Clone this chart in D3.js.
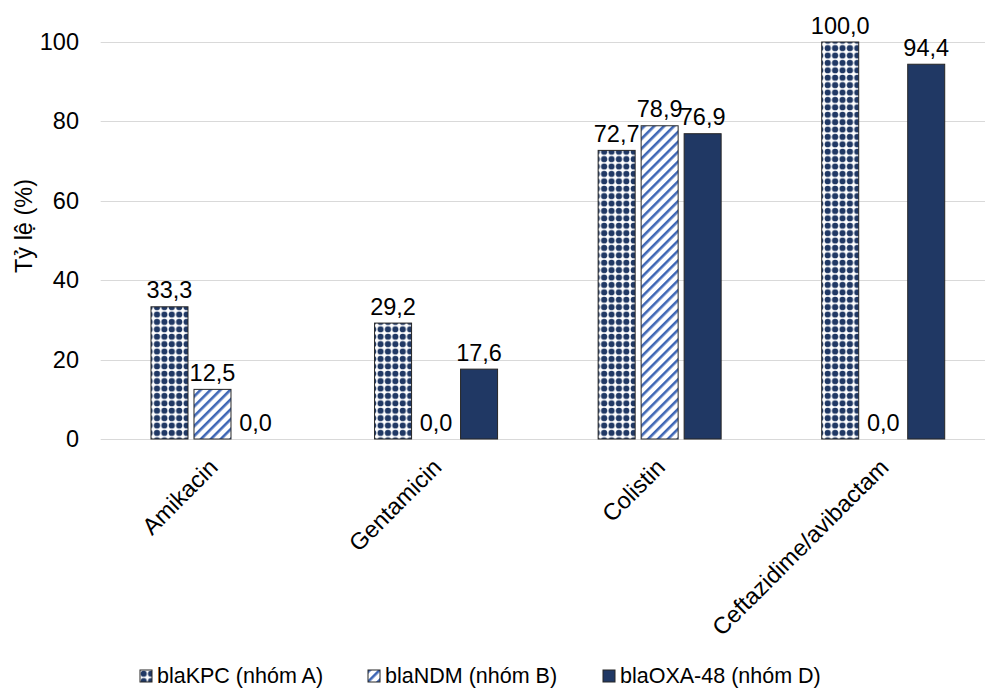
<!DOCTYPE html>
<html>
<head>
<meta charset="utf-8">
<script src="https://cdn.jsdelivr.net/npm/d3@7"></script>
<style>
  html, body { margin: 0; padding: 0; background: #fff; }
  svg { display: block; font-family: "Liberation Sans", Arial, sans-serif; }
</style>
</head>
<body>
<svg id="chart" width="985" height="688"></svg>
<script>
// Categories (antibiotics) and series (carbapenemase genes)
const categories = ["Amikacin", "Gentamicin", "Colistin", "Ceftazidime/avibactam"];
const seriesNames = ["blaKPC (nhóm A)", "blaNDM (nhóm B)", "blaOXA-48 (nhóm D)"];
const kpcValues = [33.3, 29.2, 72.7, 100.0];
const ndmValues = [12.5, 0.0, 78.9, 0.0];
const oxaValues = [0.0, 17.6, 76.9, 94.4];
const yTicks = [0, 20, 40, 60, 80, 100];
const yTitle = "Tỷ lệ (%)";

const seriesValues = [kpcValues, ndmValues, oxaValues];
const fills = ["url(#dots)", "url(#stripes)", "#203864"];
const navy = "#203864";

const svg = d3.select("#chart");
const FS = 23.5;

// Patterns
const defs = svg.append("defs");
const dots = defs.append("pattern")
  .attr("id", "dots").attr("patternUnits", "userSpaceOnUse")
  .attr("width", 7.4).attr("height", 7.4);
dots.append("rect").attr("width", 7.4).attr("height", 7.4).attr("fill", "#fff");
dots.append("circle").attr("cx", 3.7).attr("cy", 3.7).attr("r", 3.1).attr("fill", navy);

const stripes = defs.append("pattern")
  .attr("id", "stripes").attr("patternUnits", "userSpaceOnUse")
  .attr("width", 7).attr("height", 7)
  .attr("patternTransform", "rotate(45)");
stripes.append("rect").attr("width", 7).attr("height", 7).attr("fill", "#fff");
stripes.append("rect").attr("x", 0).attr("width", 2.6).attr("height", 7).attr("fill", "#3f67b5");

// Scales
const y = d3.scaleLinear().domain([0, 100]).range([439, 42]);
const x0 = d3.scaleBand().domain(categories).range([100.7, 995]).paddingInner(0).paddingOuter(0);
const x1 = d3.scaleBand().domain(seriesNames).range([-61.5, 61.5]).paddingInner(6 / 43).paddingOuter(0);

// Gridlines
svg.append("g").selectAll("line").data(yTicks).join("line")
  .attr("x1", 100.7).attr("x2", 995)
  .attr("y1", d => Math.round(y(d)) + 0.5).attr("y2", d => Math.round(y(d)) + 0.5)
  .attr("stroke", "#d9d9d9").attr("stroke-width", 1);

// Y axis labels
const yAxis = d3.axisLeft(y).tickValues(yTicks).tickSize(0).tickPadding(0).tickFormat(d3.format("d"));
const gy = svg.append("g").attr("transform", "translate(79,0)").call(yAxis);
gy.select(".domain").remove();
gy.selectAll("text").attr("font-size", FS).attr("fill", "#000")
  .attr("font-family", "Liberation Sans, Arial, sans-serif");

// Y title
svg.append("text")
  .attr("transform", "translate(32,226) rotate(-90)")
  .attr("text-anchor", "middle")
  .attr("font-size", FS).attr("fill", "#000")
  .text(yTitle);

// Bars
const fmt = v => v.toFixed(1).replace(".", ",");
const groups = svg.append("g").selectAll("g").data(categories).join("g")
  .attr("transform", c => `translate(${x0(c) + x0.bandwidth() / 2},0)`);

groups.each(function (c, ci) {
  const g = d3.select(this);
  seriesNames.forEach((s, si) => {
    const v = seriesValues[si][ci];
    const bx = x1(s);
    if (v > 0) {
      g.append("rect")
        .attr("x", bx).attr("y", y(v))
        .attr("width", x1.bandwidth()).attr("height", y(0) - y(v))
        .attr("fill", fills[si])
        .attr("stroke", "#262626").attr("stroke-width", 1);
    }
    g.append("text")
      .attr("x", bx + x1.bandwidth() / 2)
      .attr("y", y(v) - 8.5)
      .attr("text-anchor", "middle")
      .attr("font-size", FS).attr("fill", "#000")
      .text(fmt(v));
  });
});

// Category labels, rotated
svg.append("g").selectAll("text").data(categories).join("text")
  .attr("transform", c => `translate(${x0(c) + x0.bandwidth() / 2 + 1},463) rotate(-45)`)
  .attr("text-anchor", "end")
  .attr("dy", "0.35em")
  .attr("font-size", FS).attr("fill", "#000")
  .text(c => c);

// Legend
const legendX = [140, 368, 603];
const legend = svg.append("g").selectAll("g").data(seriesNames).join("g")
  .attr("transform", (s, i) => `translate(${legendX[i]},670)`);
legend.append("rect")
  .attr("width", 12).attr("height", 12)
  .attr("fill", (s, i) => fills[i])
  .attr("stroke", "#262626").attr("stroke-width", 1);
legend.append("text")
  .attr("x", 17).attr("y", 13)
  .attr("font-size", 21.5).attr("fill", "#000")
  .text(s => s);
</script>
</body>
</html>
